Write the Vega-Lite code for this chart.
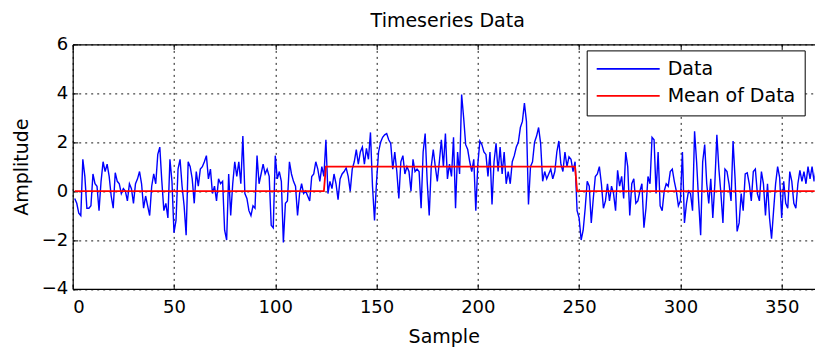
{
  "$schema": "https://vega.github.io/schema/vega-lite/v6.json",
  "autosize": {"type": "none"},
  "padding": {"left": 72.7, "top": 44.4, "right": 0.3, "bottom": 61.1},
  "width": 742,
  "height": 244.5,
  "background": "white",
  "title": {
    "text": "Timeseries Data",
    "font": "DejaVu Sans",
    "fontSize": 19,
    "fontWeight": "normal",
    "color": "black",
    "anchor": "middle",
    "dx": 4,
    "offset": 4
  },
  "data": {
    "values": [
      {"Sample":1,"Data":-0.3,"Mean":0},{"Sample":2,"Data":-0.5,"Mean":0},{"Sample":3,"Data":-0.9,"Mean":0},{"Sample":4,"Data":-1.0,"Mean":0},{"Sample":5,"Data":1.3,"Mean":0},
      {"Sample":6,"Data":0.6,"Mean":0},{"Sample":7,"Data":-0.7,"Mean":0},{"Sample":8,"Data":-0.7,"Mean":0},{"Sample":9,"Data":-0.6,"Mean":0},{"Sample":10,"Data":0.7,"Mean":0},
      {"Sample":11,"Data":0.3,"Mean":0},{"Sample":12,"Data":0.2,"Mean":0},{"Sample":13,"Data":-0.8,"Mean":0},{"Sample":14,"Data":0.4,"Mean":0},{"Sample":15,"Data":1.2,"Mean":0},
      {"Sample":16,"Data":0.8,"Mean":0},{"Sample":17,"Data":1.1,"Mean":0},{"Sample":18,"Data":0.6,"Mean":0},{"Sample":19,"Data":-0.2,"Mean":0},{"Sample":20,"Data":-0.7,"Mean":0},
      {"Sample":21,"Data":0.75,"Mean":0},{"Sample":22,"Data":0.4,"Mean":0},{"Sample":23,"Data":0.3,"Mean":0},{"Sample":24,"Data":-0.1,"Mean":0},{"Sample":25,"Data":0.1,"Mean":0},
      {"Sample":26,"Data":0.0,"Mean":0},{"Sample":27,"Data":-0.4,"Mean":0},{"Sample":28,"Data":0.3,"Mean":0},{"Sample":29,"Data":0.1,"Mean":0},{"Sample":30,"Data":-0.5,"Mean":0},
      {"Sample":31,"Data":0.3,"Mean":0},{"Sample":32,"Data":0.5,"Mean":0},{"Sample":33,"Data":0.8,"Mean":0},{"Sample":34,"Data":0.3,"Mean":0},{"Sample":35,"Data":-0.7,"Mean":0},
      {"Sample":36,"Data":-0.2,"Mean":0},{"Sample":37,"Data":-0.6,"Mean":0},{"Sample":38,"Data":-1.0,"Mean":0},{"Sample":39,"Data":0.2,"Mean":0},{"Sample":40,"Data":0.7,"Mean":0},
      {"Sample":41,"Data":0.3,"Mean":0},{"Sample":42,"Data":1.5,"Mean":0},{"Sample":43,"Data":1.8,"Mean":0},{"Sample":44,"Data":0.4,"Mean":0},{"Sample":45,"Data":-0.8,"Mean":0},
      {"Sample":46,"Data":-0.5,"Mean":0},{"Sample":47,"Data":-1.1,"Mean":0},{"Sample":48,"Data":1.3,"Mean":0},{"Sample":49,"Data":0.4,"Mean":0},{"Sample":50,"Data":-1.7,"Mean":0},
      {"Sample":51,"Data":-1.2,"Mean":0},{"Sample":52,"Data":0.9,"Mean":0},{"Sample":53,"Data":1.3,"Mean":0},{"Sample":54,"Data":0.2,"Mean":0},{"Sample":55,"Data":-0.6,"Mean":0},
      {"Sample":56,"Data":-1.8,"Mean":0},{"Sample":57,"Data":1.2,"Mean":0},{"Sample":58,"Data":1.0,"Mean":0},{"Sample":59,"Data":0.5,"Mean":0},{"Sample":60,"Data":-0.5,"Mean":0},
      {"Sample":61,"Data":0.8,"Mean":0},{"Sample":62,"Data":0.2,"Mean":0},{"Sample":63,"Data":0.9,"Mean":0},{"Sample":64,"Data":1.0,"Mean":0},{"Sample":65,"Data":1.2,"Mean":0},
      {"Sample":66,"Data":1.45,"Mean":0},{"Sample":67,"Data":0.5,"Mean":0},{"Sample":68,"Data":0.9,"Mean":0},{"Sample":69,"Data":-0.1,"Mean":0},{"Sample":70,"Data":0.2,"Mean":0},
      {"Sample":71,"Data":-0.4,"Mean":0},{"Sample":72,"Data":0.5,"Mean":0},{"Sample":73,"Data":0.3,"Mean":0},{"Sample":74,"Data":0.4,"Mean":0},{"Sample":75,"Data":-1.6,"Mean":0},
      {"Sample":76,"Data":-2.0,"Mean":0},{"Sample":77,"Data":0.7,"Mean":0},{"Sample":78,"Data":-1.0,"Mean":0},{"Sample":79,"Data":0.3,"Mean":0},{"Sample":80,"Data":1.2,"Mean":0},
      {"Sample":81,"Data":0.6,"Mean":0},{"Sample":82,"Data":1.2,"Mean":0},{"Sample":83,"Data":0.3,"Mean":0},{"Sample":84,"Data":2.25,"Mean":0},{"Sample":85,"Data":-0.1,"Mean":0},
      {"Sample":86,"Data":-0.3,"Mean":0},{"Sample":87,"Data":-0.8,"Mean":0},{"Sample":88,"Data":-1.0,"Mean":0},{"Sample":89,"Data":-0.6,"Mean":0},{"Sample":90,"Data":-0.7,"Mean":0},
      {"Sample":91,"Data":1.45,"Mean":0},{"Sample":92,"Data":0.3,"Mean":0},{"Sample":93,"Data":0.7,"Mean":0},{"Sample":94,"Data":1.1,"Mean":0},{"Sample":95,"Data":0.7,"Mean":0},
      {"Sample":96,"Data":0.9,"Mean":0},{"Sample":97,"Data":0.6,"Mean":0},{"Sample":98,"Data":-1.4,"Mean":0},{"Sample":99,"Data":-1.5,"Mean":0},{"Sample":100,"Data":1.45,"Mean":0},
      {"Sample":101,"Data":0.5,"Mean":0},{"Sample":102,"Data":0.8,"Mean":0},{"Sample":103,"Data":0.4,"Mean":0},{"Sample":104,"Data":-2.1,"Mean":0},{"Sample":105,"Data":-0.5,"Mean":0},
      {"Sample":106,"Data":-0.4,"Mean":0},{"Sample":107,"Data":1.2,"Mean":0},{"Sample":108,"Data":0.7,"Mean":0},{"Sample":109,"Data":0.4,"Mean":0},{"Sample":110,"Data":0.2,"Mean":0},
      {"Sample":111,"Data":-1.0,"Mean":0},{"Sample":112,"Data":-0.1,"Mean":0},{"Sample":113,"Data":0.3,"Mean":0},{"Sample":114,"Data":-0.1,"Mean":0},{"Sample":115,"Data":0.0,"Mean":0},
      {"Sample":116,"Data":-0.2,"Mean":0},{"Sample":117,"Data":-0.4,"Mean":0},{"Sample":118,"Data":0.6,"Mean":0},{"Sample":119,"Data":0.7,"Mean":0},{"Sample":120,"Data":1.2,"Mean":0},
      {"Sample":121,"Data":0.9,"Mean":0},{"Sample":122,"Data":0.4,"Mean":0},{"Sample":123,"Data":1.0,"Mean":0},{"Sample":124,"Data":0.6,"Mean":0},{"Sample":125,"Data":2.1,"Mean":1},
      {"Sample":126,"Data":-0.1,"Mean":1},{"Sample":127,"Data":0.4,"Mean":1},{"Sample":128,"Data":0.1,"Mean":1},{"Sample":129,"Data":0.7,"Mean":1},{"Sample":130,"Data":0.3,"Mean":1},
      {"Sample":131,"Data":-0.35,"Mean":1},{"Sample":132,"Data":0.5,"Mean":1},{"Sample":133,"Data":0.7,"Mean":1},{"Sample":134,"Data":0.8,"Mean":1},{"Sample":135,"Data":0.95,"Mean":1},
      {"Sample":136,"Data":0.6,"Mean":1},{"Sample":137,"Data":0.0,"Mean":1},{"Sample":138,"Data":0.9,"Mean":1},{"Sample":139,"Data":1.2,"Mean":1},{"Sample":140,"Data":1.7,"Mean":1},
      {"Sample":141,"Data":1.1,"Mean":1},{"Sample":142,"Data":1.6,"Mean":1},{"Sample":143,"Data":1.8,"Mean":1},{"Sample":144,"Data":1.1,"Mean":1},{"Sample":145,"Data":1.75,"Mean":1},
      {"Sample":146,"Data":1.3,"Mean":1},{"Sample":147,"Data":2.4,"Mean":1},{"Sample":148,"Data":0.2,"Mean":1},{"Sample":149,"Data":-1.2,"Mean":1},{"Sample":150,"Data":0.4,"Mean":1},
      {"Sample":151,"Data":1.6,"Mean":1},{"Sample":152,"Data":2.0,"Mean":1},{"Sample":153,"Data":2.2,"Mean":1},{"Sample":154,"Data":2.3,"Mean":1},{"Sample":155,"Data":2.35,"Mean":1},
      {"Sample":156,"Data":2.1,"Mean":1},{"Sample":157,"Data":1.95,"Mean":1},{"Sample":158,"Data":0.9,"Mean":1},{"Sample":159,"Data":1.6,"Mean":1},{"Sample":160,"Data":0.8,"Mean":1},
      {"Sample":161,"Data":-0.3,"Mean":1},{"Sample":162,"Data":1.2,"Mean":1},{"Sample":163,"Data":1.45,"Mean":1},{"Sample":164,"Data":0.7,"Mean":1},{"Sample":165,"Data":1.0,"Mean":1},
      {"Sample":166,"Data":0.8,"Mean":1},{"Sample":167,"Data":0.0,"Mean":1},{"Sample":168,"Data":1.3,"Mean":1},{"Sample":169,"Data":0.8,"Mean":1},{"Sample":170,"Data":0.9,"Mean":1},
      {"Sample":171,"Data":0.8,"Mean":1},{"Sample":172,"Data":-0.7,"Mean":1},{"Sample":173,"Data":1.6,"Mean":1},{"Sample":174,"Data":2.35,"Mean":1},{"Sample":175,"Data":0.4,"Mean":1},
      {"Sample":176,"Data":-1.0,"Mean":1},{"Sample":177,"Data":1.0,"Mean":1},{"Sample":178,"Data":1.7,"Mean":1},{"Sample":179,"Data":1.0,"Mean":1},{"Sample":180,"Data":0.4,"Mean":1},
      {"Sample":181,"Data":1.2,"Mean":1},{"Sample":182,"Data":2.1,"Mean":1},{"Sample":183,"Data":1.0,"Mean":1},{"Sample":184,"Data":2.35,"Mean":1},{"Sample":185,"Data":0.5,"Mean":1},
      {"Sample":186,"Data":1.1,"Mean":1},{"Sample":187,"Data":0.6,"Mean":1},{"Sample":188,"Data":2.2,"Mean":1},{"Sample":189,"Data":-0.7,"Mean":1},{"Sample":190,"Data":1.6,"Mean":1},
      {"Sample":191,"Data":0.7,"Mean":1},{"Sample":192,"Data":3.95,"Mean":1},{"Sample":193,"Data":3.0,"Mean":1},{"Sample":194,"Data":1.9,"Mean":1},{"Sample":195,"Data":1.7,"Mean":1},
      {"Sample":196,"Data":1.2,"Mean":1},{"Sample":197,"Data":0.8,"Mean":1},{"Sample":198,"Data":1.3,"Mean":1},{"Sample":199,"Data":-0.8,"Mean":1},{"Sample":200,"Data":1.1,"Mean":1},
      {"Sample":201,"Data":2.05,"Mean":1},{"Sample":202,"Data":1.9,"Mean":1},{"Sample":203,"Data":1.6,"Mean":1},{"Sample":204,"Data":1.5,"Mean":1},{"Sample":205,"Data":0.6,"Mean":1},
      {"Sample":206,"Data":1.6,"Mean":1},{"Sample":207,"Data":-0.55,"Mean":1},{"Sample":208,"Data":1.2,"Mean":1},{"Sample":209,"Data":1.95,"Mean":1},{"Sample":210,"Data":0.8,"Mean":1},
      {"Sample":211,"Data":1.8,"Mean":1},{"Sample":212,"Data":0.7,"Mean":1},{"Sample":213,"Data":1.6,"Mean":1},{"Sample":214,"Data":0.3,"Mean":1},{"Sample":215,"Data":0.8,"Mean":1},
      {"Sample":216,"Data":0.3,"Mean":1},{"Sample":217,"Data":1.2,"Mean":1},{"Sample":218,"Data":1.45,"Mean":1},{"Sample":219,"Data":1.8,"Mean":1},{"Sample":220,"Data":2.0,"Mean":1},
      {"Sample":221,"Data":2.6,"Mean":1},{"Sample":222,"Data":2.85,"Mean":1},{"Sample":223,"Data":3.6,"Mean":1},{"Sample":224,"Data":2.85,"Mean":1},{"Sample":225,"Data":-0.55,"Mean":1},
      {"Sample":226,"Data":1.0,"Mean":1},{"Sample":227,"Data":1.2,"Mean":1},{"Sample":228,"Data":2.0,"Mean":1},{"Sample":229,"Data":2.25,"Mean":1},{"Sample":230,"Data":2.6,"Mean":1},
      {"Sample":231,"Data":1.95,"Mean":1},{"Sample":232,"Data":0.4,"Mean":1},{"Sample":233,"Data":0.8,"Mean":1},{"Sample":234,"Data":0.5,"Mean":1},{"Sample":235,"Data":0.7,"Mean":1},
      {"Sample":236,"Data":0.9,"Mean":1},{"Sample":237,"Data":0.5,"Mean":1},{"Sample":238,"Data":0.8,"Mean":1},{"Sample":239,"Data":1.6,"Mean":1},{"Sample":240,"Data":2.05,"Mean":1},
      {"Sample":241,"Data":1.1,"Mean":1},{"Sample":242,"Data":0.8,"Mean":1},{"Sample":243,"Data":1.6,"Mean":1},{"Sample":244,"Data":1.0,"Mean":1},{"Sample":245,"Data":1.4,"Mean":1},
      {"Sample":246,"Data":1.3,"Mean":1},{"Sample":247,"Data":0.8,"Mean":1},{"Sample":248,"Data":1.2,"Mean":1},{"Sample":249,"Data":-0.8,"Mean":0},{"Sample":250,"Data":-1.1,"Mean":0},
      {"Sample":251,"Data":-2.0,"Mean":0},{"Sample":252,"Data":-1.6,"Mean":0},{"Sample":253,"Data":-0.7,"Mean":0},{"Sample":254,"Data":0.4,"Mean":0},{"Sample":255,"Data":0.2,"Mean":0},
      {"Sample":256,"Data":-1.3,"Mean":0},{"Sample":257,"Data":-0.3,"Mean":0},{"Sample":258,"Data":0.6,"Mean":0},{"Sample":259,"Data":0.7,"Mean":0},{"Sample":260,"Data":1.0,"Mean":0},
      {"Sample":261,"Data":0.3,"Mean":0},{"Sample":262,"Data":-0.7,"Mean":0},{"Sample":263,"Data":-0.4,"Mean":0},{"Sample":264,"Data":0.3,"Mean":0},{"Sample":265,"Data":-0.4,"Mean":0},
      {"Sample":266,"Data":0.2,"Mean":0},{"Sample":267,"Data":-0.1,"Mean":0},{"Sample":268,"Data":-0.8,"Mean":0},{"Sample":269,"Data":0.85,"Mean":0},{"Sample":270,"Data":0.2,"Mean":0},
      {"Sample":271,"Data":0.6,"Mean":0},{"Sample":272,"Data":-0.3,"Mean":0},{"Sample":273,"Data":1.6,"Mean":0},{"Sample":274,"Data":1.0,"Mean":0},{"Sample":275,"Data":-1.0,"Mean":0},
      {"Sample":276,"Data":0.3,"Mean":0},{"Sample":277,"Data":0.5,"Mean":0},{"Sample":278,"Data":-0.5,"Mean":0},{"Sample":279,"Data":-0.4,"Mean":0},{"Sample":280,"Data":0.0,"Mean":0},
      {"Sample":281,"Data":0.3,"Mean":0},{"Sample":282,"Data":-1.5,"Mean":0},{"Sample":283,"Data":-0.7,"Mean":0},{"Sample":284,"Data":0.6,"Mean":0},{"Sample":285,"Data":0.3,"Mean":0},
      {"Sample":286,"Data":2.2,"Mean":0},{"Sample":287,"Data":2.1,"Mean":0},{"Sample":288,"Data":-0.1,"Mean":0},{"Sample":289,"Data":1.6,"Mean":0},{"Sample":290,"Data":-0.6,"Mean":0},
      {"Sample":291,"Data":-0.8,"Mean":0},{"Sample":292,"Data":0.0,"Mean":0},{"Sample":293,"Data":0.3,"Mean":0},{"Sample":294,"Data":0.2,"Mean":0},{"Sample":295,"Data":0.8,"Mean":0},
      {"Sample":296,"Data":0.9,"Mean":0},{"Sample":297,"Data":0.4,"Mean":0},{"Sample":298,"Data":0.0,"Mean":0},{"Sample":299,"Data":-0.6,"Mean":0},{"Sample":300,"Data":-0.4,"Mean":0},
      {"Sample":301,"Data":1.6,"Mean":0},{"Sample":302,"Data":-1.3,"Mean":0},{"Sample":303,"Data":-0.5,"Mean":0},{"Sample":304,"Data":0.0,"Mean":0},{"Sample":305,"Data":-0.1,"Mean":0},
      {"Sample":306,"Data":-0.8,"Mean":0},{"Sample":307,"Data":2.45,"Mean":0},{"Sample":308,"Data":1.2,"Mean":0},{"Sample":309,"Data":-0.4,"Mean":0},{"Sample":310,"Data":-1.8,"Mean":0},
      {"Sample":311,"Data":1.2,"Mean":0},{"Sample":312,"Data":1.9,"Mean":0},{"Sample":313,"Data":0.3,"Mean":0},{"Sample":314,"Data":-0.5,"Mean":0},{"Sample":315,"Data":0.5,"Mean":0},
      {"Sample":316,"Data":-1.1,"Mean":0},{"Sample":317,"Data":0.3,"Mean":0},{"Sample":318,"Data":2.3,"Mean":0},{"Sample":319,"Data":0.9,"Mean":0},{"Sample":320,"Data":-0.1,"Mean":0},
      {"Sample":321,"Data":-1.3,"Mean":0},{"Sample":322,"Data":0.9,"Mean":0},{"Sample":323,"Data":0.8,"Mean":0},{"Sample":324,"Data":0.3,"Mean":0},{"Sample":325,"Data":-0.4,"Mean":0},
      {"Sample":326,"Data":2.05,"Mean":0},{"Sample":327,"Data":0.5,"Mean":0},{"Sample":328,"Data":-1.65,"Mean":0},{"Sample":329,"Data":-1.3,"Mean":0},{"Sample":330,"Data":-0.1,"Mean":0},
      {"Sample":331,"Data":-0.8,"Mean":0},{"Sample":332,"Data":0.7,"Mean":0},{"Sample":333,"Data":0.75,"Mean":0},{"Sample":334,"Data":0.3,"Mean":0},{"Sample":335,"Data":-0.4,"Mean":0},
      {"Sample":336,"Data":0.8,"Mean":0},{"Sample":337,"Data":0.9,"Mean":0},{"Sample":338,"Data":-0.1,"Mean":0},{"Sample":339,"Data":-0.4,"Mean":0},{"Sample":340,"Data":0.8,"Mean":0},
      {"Sample":341,"Data":0.3,"Mean":0},{"Sample":342,"Data":-1.0,"Mean":0},{"Sample":343,"Data":0.3,"Mean":0},{"Sample":344,"Data":-1.1,"Mean":0},{"Sample":345,"Data":-1.95,"Mean":0},
      {"Sample":346,"Data":-0.8,"Mean":0},{"Sample":347,"Data":0.3,"Mean":0},{"Sample":348,"Data":1.0,"Mean":0},{"Sample":349,"Data":0.55,"Mean":0},{"Sample":350,"Data":-1.1,"Mean":0},
      {"Sample":351,"Data":0.4,"Mean":0},{"Sample":352,"Data":-0.5,"Mean":0},{"Sample":353,"Data":-0.7,"Mean":0},{"Sample":354,"Data":0.8,"Mean":0},{"Sample":355,"Data":0.4,"Mean":0},
      {"Sample":356,"Data":-0.5,"Mean":0},{"Sample":357,"Data":-0.7,"Mean":0},{"Sample":358,"Data":0.3,"Mean":0},{"Sample":359,"Data":0.85,"Mean":0},{"Sample":360,"Data":0.4,"Mean":0},
      {"Sample":361,"Data":0.8,"Mean":0},{"Sample":362,"Data":0.3,"Mean":0},{"Sample":363,"Data":1.0,"Mean":0},{"Sample":364,"Data":0.5,"Mean":0},{"Sample":365,"Data":1.0,"Mean":0},
      {"Sample":366,"Data":0.4,"Mean":0},{"Sample":367,"Data":0.9,"Mean":0},{"Sample":368,"Data":0.6,"Mean":0},{"Sample":369,"Data":1.1,"Mean":0},{"Sample":370,"Data":0.3,"Mean":0},
      {"Sample":371,"Data":0.8,"Mean":0},{"Sample":372,"Data":0.5,"Mean":0}
    ]
  },
  "resolve": {"axis": {"x": "independent", "y": "independent"}},
  "layer": [
    {
      "mark": {"type": "line", "clip": true, "strokeWidth": 1.4, "interpolate": "linear"},
      "encoding": {
        "x": {
          "field": "Sample",
          "type": "quantitative",
          "scale": {"domain": [0, 366.3], "nice": false, "zero": false},
          "axis": {
            "orient": "bottom",
            "title": "Sample",
            "values": [0, 50, 100, 150, 200, 250, 300, 350],
            "grid": true,
            "labelPadding": 15,
            "titlePadding": 11
          }
        },
        "y": {
          "field": "Data",
          "type": "quantitative",
          "scale": {"domain": [-4, 6], "nice": false, "zero": false},
          "axis": {
            "orient": "left",
            "title": "Amplitude",
            "values": [-4, -2, 0, 2, 4, 6],
            "grid": true,
            "titlePadding": 10
          }
        },
        "color": {
          "datum": "Data",
          "scale": {"domain": ["Data", "Mean of Data"], "range": ["#0000ff", "#ff0000"]},
          "legend": {
            "orient": "none",
            "legendX": 514,
            "legendY": 6,
            "title": null,
            "symbolType": "stroke",
            "symbolSize": 3969,
            "symbolStrokeWidth": 1.6,
            "clipHeight": 19,
            "labelFont": "DejaVu Sans",
            "labelFontSize": 19,
            "labelColor": "black",
            "labelOffset": 7,
            "rowPadding": 7,
            "padding": 9,
            "strokeColor": "black",
            "fillColor": "white",
            "cornerRadius": 0
          }
        }
      }
    },
    {
      "mark": {"type": "line", "clip": true, "strokeWidth": 1.8},
      "encoding": {
        "x": {
          "field": "Sample",
          "type": "quantitative",
          "axis": {
            "orient": "top",
            "title": null,
            "labels": false,
            "grid": false,
            "values": [0, 50, 100, 150, 200, 250, 300, 350]
          }
        },
        "y": {"field": "Mean", "type": "quantitative", "axis": null},
        "color": {"datum": "Mean of Data"}
      }
    }
  ],
  "config": {
    "view": {"stroke": null},
    "font": "DejaVu Sans",
    "axis": {
      "domainColor": "black",
      "domainWidth": 1.2,
      "tickColor": "black",
      "tickSize": -5,
      "tickWidth": 1,
      "labelFont": "DejaVu Sans",
      "labelFontSize": 18,
      "labelColor": "black",
      "labelPadding": 10,
      "titleFont": "DejaVu Sans",
      "titleFontSize": 19,
      "titleFontWeight": "normal",
      "titleColor": "black",
      "gridColor": "black",
      "gridDash": [2, 4],
      "gridOpacity": 0.9,
      "gridWidth": 1
    }
  }
}
